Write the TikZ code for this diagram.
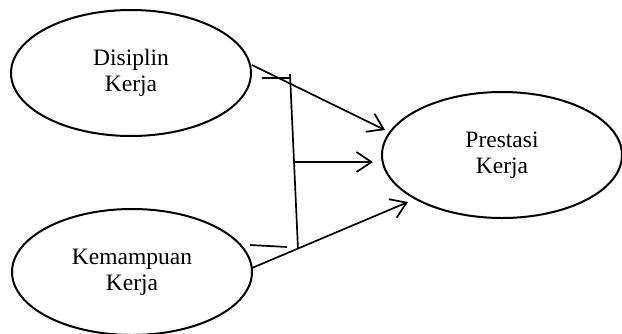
\documentclass[tikz,border=0pt]{standalone}
\usepackage{fontspec}
\setmainfont{Liberation Serif}
\usetikzlibrary{arrows.meta,shapes.geometric}
\begin{document}
\begin{tikzpicture}[x=1pt,y=-1pt,
  var/.style={draw,line width=2pt,ellipse,minimum width=240pt,minimum height=126pt,inner sep=0pt,align=center,font=\fontsize{23.5}{26}\selectfont},
  conn/.style={line width=1.7pt},
  arr/.style={conn,-{Straight Barb[length=15pt,width=20pt,line width=1.7pt]}}]
\useasboundingbox (0,0) rectangle (622,333);
\begin{scope}
\clip (0,0) rectangle (622,333);
\node[var] (d) at (131,73) {Disiplin\\Kerja};
\node[var] (k) at (132,272) {Kemampuan\\Kerja};
\node[var] (p) at (502,155) {Prestasi\\Kerja};
\end{scope}
\coordinate (dstart) at (252,65);
\coordinate (ptop) at (385,130);
\coordinate (vtop) at (290,74);
\coordinate (vbot) at (298,249);
\coordinate (t1a) at (262,78);
\coordinate (t1b) at (290,78);
\coordinate (t2a) at (250,245);
\coordinate (t2b) at (287,247);
\coordinate (vmid) at (294,162);
\coordinate (pmid) at (373,162);
\coordinate (kstart) at (252,268);
\coordinate (pbot) at (408,202);
\draw[arr] (dstart) -- (ptop);
\draw[conn] (t1a) -- (t1b);
\draw[conn] (vtop) -- (vbot);
\draw[conn] (t2a) -- (t2b);
\draw[arr] (vmid) -- (pmid);
\draw[arr] (kstart) -- (pbot);
\end{tikzpicture}
\end{document}
